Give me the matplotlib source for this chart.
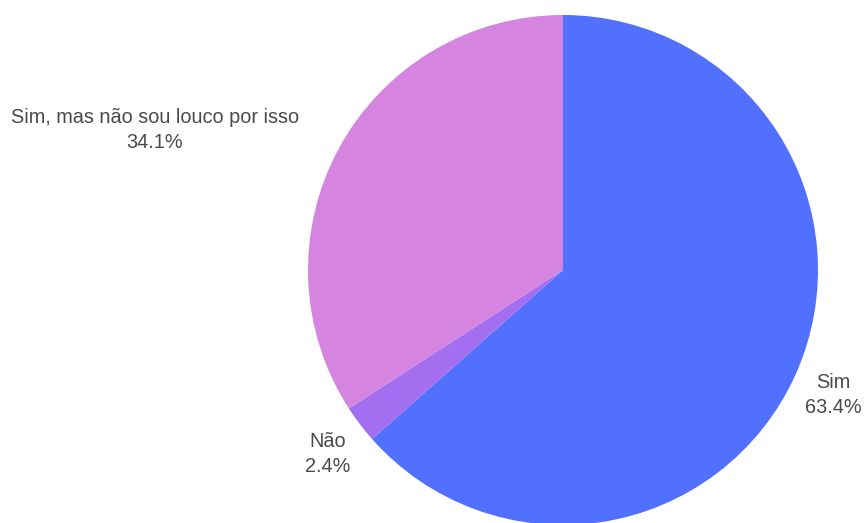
import matplotlib.pyplot as plt

labels = ['Sim', 'Não', 'Sim, mas não sou louco por isso']
shares = [63.4, 2.4, 34.1]
colors = ['#5070fd', '#a36ef0', '#d585df']

# where each label goes, in pie-radius units from the centre
label_xy = [(1.06, -0.49), (-0.922, -0.72), (-1.6, 0.548)]

plt.rcParams['font.family'] = ['Liberation Sans', 'DejaVu Sans']

fig = plt.figure(figsize=(8.65, 5.23), dpi=100)
ax = fig.add_axes([308 / 865, -2 / 523, 510 / 865, 510 / 523])
ax.pie(shares, colors=colors, startangle=90, counterclock=False,
       radius=1.0, wedgeprops={'linewidth': 0})
ax.set_xlim(-1, 1)
ax.set_ylim(-1, 1)
ax.set_aspect('equal')
ax.axis('off')

for name, val, (x, y) in zip(labels, shares, label_xy):
    ax.text(x, y, f'{name}\n{val}%', ha='center', va='center',
            fontsize=14.3, color='#4a4a4a', linespacing=1.4, clip_on=False)

fig.savefig('out.png', dpi=100, facecolor='white')
